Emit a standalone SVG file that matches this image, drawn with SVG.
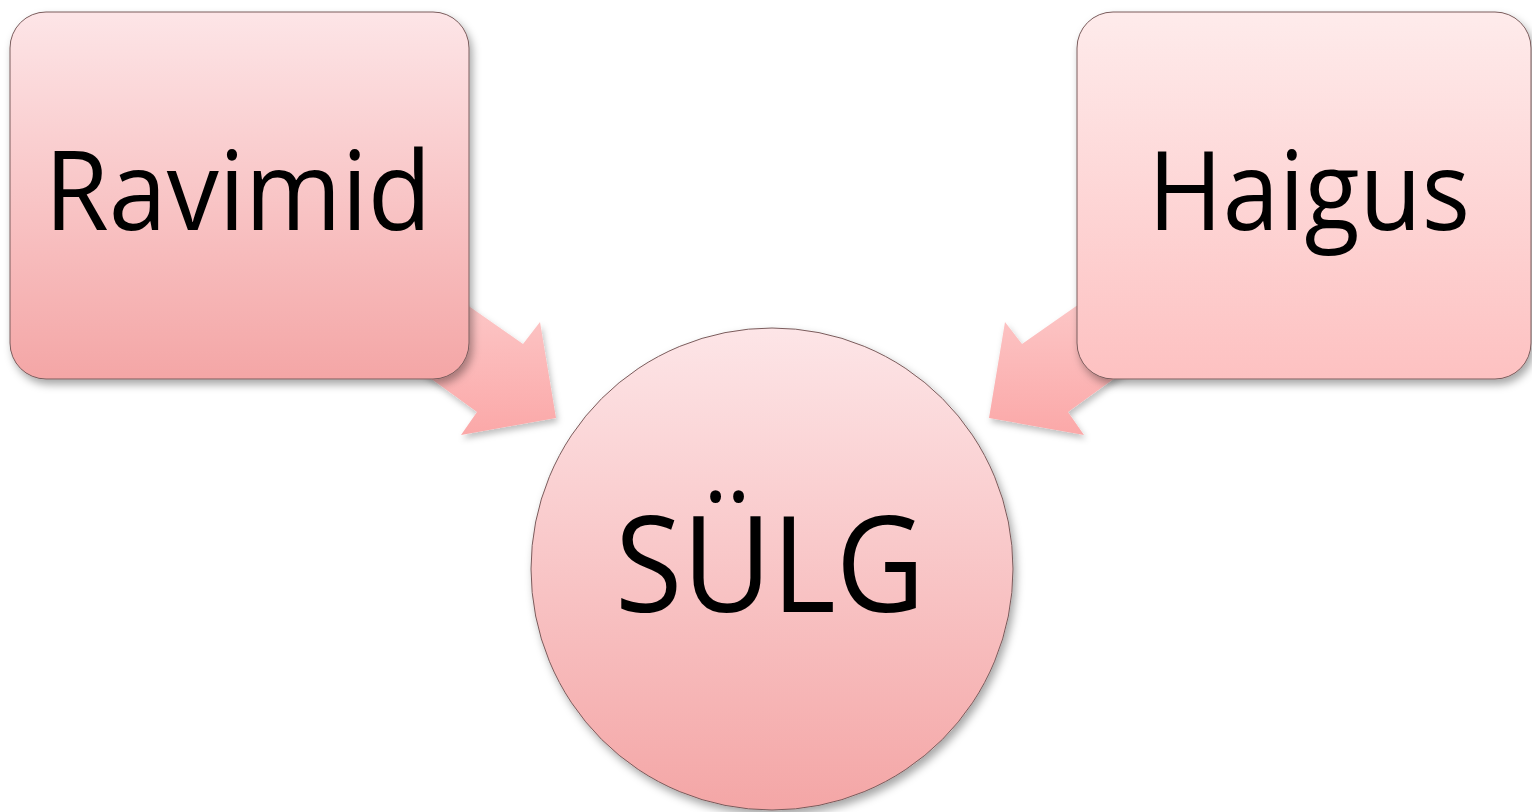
<svg xmlns="http://www.w3.org/2000/svg" width="1532" height="812" viewBox="0 0 1532 812">
  <defs>
    <linearGradient id="nodeGrad" x1="0" y1="0" x2="0" y2="1">
      <stop offset="0" stop-color="#fde5e7"/>
      <stop offset="1" stop-color="#f4a6a6"/>
    </linearGradient>
    <linearGradient id="nodeGrad2" x1="0" y1="0" x2="0" y2="1">
      <stop offset="0" stop-color="#feebeb"/>
      <stop offset="1" stop-color="#fdc1c1"/>
    </linearGradient>
    <linearGradient id="arrowGrad" x1="0" y1="0" x2="0" y2="1">
      <stop offset="0" stop-color="#fdd4d4"/>
      <stop offset="1" stop-color="#fba8a8"/>
    </linearGradient>
    <filter id="shadow" x="-10%" y="-10%" width="125%" height="125%">
      <feDropShadow dx="3" dy="5" stdDeviation="4" flood-color="#000" flood-opacity="0.35"/>
    </filter>
    <filter id="shadowA" x="-10%" y="-10%" width="125%" height="125%">
      <feDropShadow dx="2" dy="4" stdDeviation="3" flood-color="#000" flood-opacity="0.25"/>
    </filter>
  </defs>
  <style>
    .node { fill: url(#nodeGrad); stroke: #7a5c5c; stroke-width: 1; filter: url(#shadow); }
    .node2 { fill: url(#nodeGrad2); }
    .arrow { fill: url(#arrowGrad); stroke: none; filter: url(#shadowA); }
    .label { font-family: "Open Sans", "Liberation Sans", sans-serif; fill: #000; text-anchor: middle; }
  </style>
  <rect width="1532" height="812" fill="#ffffff"/>
  <g id="connectors">
    <polygon class="arrow" points="380,244 523,344 540,322 556,418 461,435 477,412 350,320"/>
    <polygon class="arrow" points="1165,244 1022,344 1005,322 989,418 1084,435 1068,412 1195,320"/>
  </g>
  <g id="node-ravimid">
    <rect class="node" x="10" y="12" width="459" height="367" rx="36" ry="36"/>
    <text class="label" x="238" y="230" font-size="109" textLength="387" lengthAdjust="spacingAndGlyphs">Ravimid</text>
  </g>
  <g id="node-haigus">
    <rect class="node node2" x="1077" y="12" width="454" height="367" rx="36" ry="36"/>
    <text class="label" x="1309" y="230" font-size="109" textLength="322" lengthAdjust="spacingAndGlyphs">Haigus</text>
  </g>
  <g id="node-sulg">
    <circle class="node" cx="772" cy="569" r="241"/>
    <text class="label" x="770" y="612" font-size="133" textLength="310" lengthAdjust="spacingAndGlyphs">SÜLG</text>
  </g>
</svg>
